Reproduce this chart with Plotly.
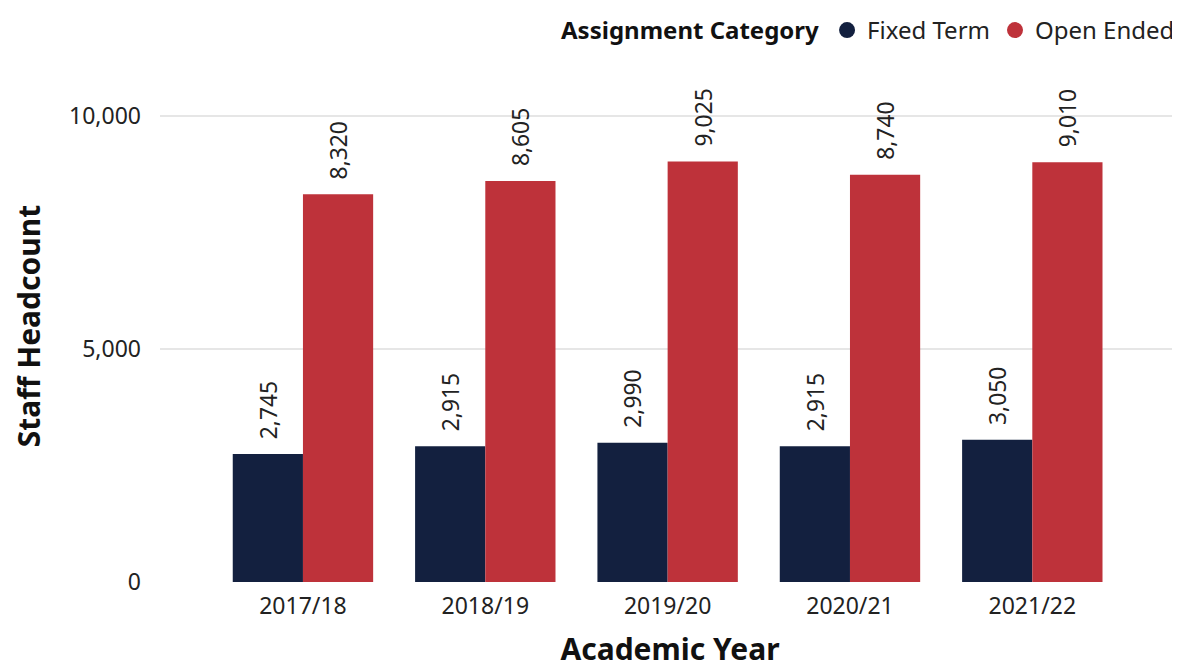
import plotly.graph_objects as go

years = ["2017/18", "2018/19", "2019/20", "2020/21", "2021/22"]
fixed_term = [2745, 2915, 2990, 2915, 3050]
open_ended = [8320, 8605, 9025, 8740, 9010]
series_names = ["Fixed Term", "Open Ended"]
colors = ["#13203F", "#BE323A"]

FONT = "Noto Sans, Open Sans, sans-serif"
NB = "\u00a0"

fig = go.Figure()
for name, vals, col in zip(series_names, [fixed_term, open_ended], colors):
    fig.add_trace(go.Bar(
        x=years, y=vals, name=name, marker=dict(color=col, line=dict(width=0)),
        text=[NB * 2 + f"{v:,}" for v in vals], textposition="outside", textangle=-90,
        textfont=dict(size=23, color="#222222", family=FONT),
        cliponaxis=False, showlegend=False,
    ))
    fig.add_trace(go.Scatter(
        x=[None], y=[None], mode="markers", name=name,
        marker=dict(color=col, size=21, symbol="circle"),
    ))

fig.update_layout(
    width=1172, height=661,
    margin=dict(l=152, r=0, t=62, b=87),
    plot_bgcolor="white", paper_bgcolor="white",
    barmode="group", bargap=0.23, bargroupgap=0,
    font=dict(family=FONT, color="#222222"),
    legend=dict(
        orientation="h", x=1.0, xanchor="right", xref="container",
        y=1.0, yanchor="top", yref="container",
        title=dict(text="<b>Assignment Category</b>", font=dict(size=24, color="#111111")),
        font=dict(size=24, color="#222222"), itemwidth=30, tracegroupgap=0,
    ),
    xaxis=dict(
        range=[-0.784, 4.81], showgrid=False, zeroline=False, automargin=False,
        tickfont=dict(size=23, color="#222222"), ticklabelstandoff=8,
        title=dict(text="<b>Academic Year</b>", font=dict(size=30, color="#111111"), standoff=19),
        ticks="", showline=False,
    ),
    yaxis=dict(
        range=[0, 10987], tickvals=[0, 5000, 10000], ticktext=["0", "5,000", "10,000"],
        showgrid=True, gridcolor="#E6E6E6", gridwidth=1.5, zeroline=False, automargin=False,
        tickfont=dict(size=23, color="#222222"), ticks="", ticklabelstandoff=18,
        title=dict(text="<b>Staff Headcount</b>", font=dict(size=30, color="#111111"), standoff=22),
    ),
)

fig.write_html("out.html")
